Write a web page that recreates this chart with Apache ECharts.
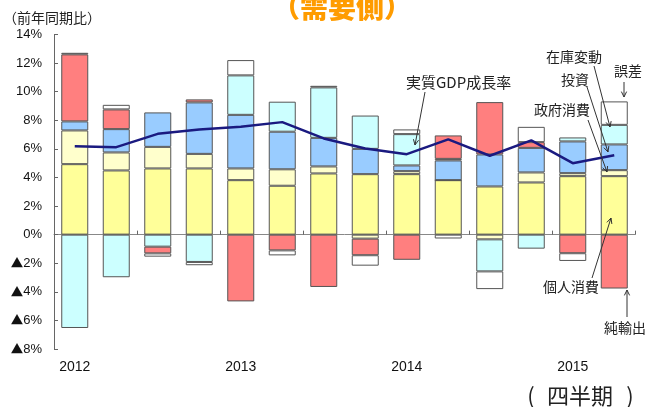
<!DOCTYPE html>
<html>
<head>
<meta charset="utf-8">
<script src="https://cdn.jsdelivr.net/npm/echarts@6/dist/echarts.min.js"></script>
<style>
  html, body { margin: 0; background: #fff; }
  #chart { width: 645px; height: 407px; }
</style>
</head>
<body>
<div id="chart"></div>
<script>
// 四半期（2012Q1〜2015Q2）
const quarters = ['2012Q1', '2012Q2', '2012Q3', '2012Q4', '2013Q1', '2013Q2', '2013Q3', '2013Q4',
  '2014Q1', '2014Q2', '2014Q3', '2014Q4', '2015Q1', '2015Q2'];
const yearLabels = ['2012', '', '', '', '2013', '', '', '', '2014', '', '', '', '2015', ''];

// 寄与度（%ポイント）
const kojinShohi = [4.93, 4.49, 4.63, 4.63, 3.81, 3.42, 4.28, 4.23, 4.23, 3.81, 3.37, 3.65, 4.09, 4.09];
const seifuShohi = [2.36, 1.26, 1.51, 1.02, 0.82, 1.15, 0.49, -0.28, 0.21, 0, -0.33, 0.70, 0.21, 0.42];
const toshi = [0.63, 1.63, 2.41, 3.60, 3.75, 2.63, 2.00, 1.77, 0.40, 1.38, 2.24, 1.72, 2.22, 1.80];
const zaiko = [-6.53, -2.98, -0.84, -1.91, 2.76, 2.10, 3.53, 2.33, 2.19, 0.11, -2.24, -0.98, 0.28, 1.37];
const junYushutsu = [4.69, 1.38, -0.47, 0.21, -4.67, -1.10, -3.66, -1.16, -1.76, 1.64, 3.66, 0.40, -1.30, -3.77];
const gosa = [0.11, 0.32, -0.23, -0.23, 1.07, -0.35, 0.11, -0.73, 0.33, -0.27, -1.24, 1.07, -0.54, 1.64];

// 実質GDP成長率
const gdpRate = [6.19, 6.12, 7.05, 7.35, 7.54, 7.87, 6.73, 6.03, 5.63, 6.66, 5.52, 6.59, 5.00, 5.56];

const jpFont = '"Noto Sans CJK JP", sans-serif';
const numFont = '"Liberation Sans", "Noto Sans CJK JP", sans-serif';

const chart = echarts.init(document.getElementById('chart'));

// 注釈用の矢印
const arrow = (x1, y1, x2, y2) => {
  const a = Math.atan2(y2 - y1, x2 - x1), h = 6, w = 0.45;
  return [
    { type: 'line', z: 100, shape: { x1, y1, x2, y2 }, style: { stroke: '#333', lineWidth: 1 } },
    {
      type: 'polyline', z: 100,
      shape: { points: [[x2 - h * Math.cos(a - w), y2 - h * Math.sin(a - w)], [x2, y2],
        [x2 - h * Math.cos(a + w), y2 - h * Math.sin(a + w)]] },
      style: { stroke: '#333', fill: null, lineWidth: 1 }
    }
  ];
};

const label = (text, x, y, size, align) => ({
  type: 'text', z: 100, x, y,
  style: { text, fontSize: size, fontFamily: jpFont, fill: '#222', textAlign: align || 'left', textVerticalAlign: 'middle' }
});

const makeBar = (name, data, color) => ({
  name, type: 'bar', stack: 'total', data, barWidth: 27,
  itemStyle: { color, borderColor: '#555', borderWidth: 1 },
  emphasis: { disabled: true }
});

const option = {
  animation: false,
  grid: { left: 54, right: 10, top: 34.5, bottom: 58, containLabel: false },
  xAxis: [
    {
      type: 'category', data: quarters,
      axisLine: { onZero: true, lineStyle: { color: '#888', width: 1 } },
      axisTick: { show: true, inside: true, length: 4, lineStyle: { color: '#666' } },
      axisLabel: { show: false }
    },
    {
      type: 'category', data: yearLabels, position: 'bottom',
      axisLine: { show: false, onZero: false }, axisTick: { show: false },
      axisLabel: { interval: 0, margin: 11, fontSize: 14, color: '#111', fontFamily: numFont }
    }
  ],
  yAxis: {
    type: 'value', min: -8, max: 14, interval: 2,
    axisLine: { show: true, lineStyle: { color: '#666' } },
    axisTick: { show: true, inside: true, length: 4, lineStyle: { color: '#666' } },
    splitLine: { show: false },
    axisLabel: {
      margin: 12, fontSize: 13, color: '#111', fontFamily: numFont,
      formatter: v => (v < 0 ? '{t|▲}' + (-v) : v) + '%',
      rich: { t: { fontFamily: jpFont, fontSize: 12.5, color: '#111' } }
    }
  },
  series: [
    makeBar('個人消費', kojinShohi, '#FFFF99'),
    makeBar('政府消費', seifuShohi, '#FFFFCC'),
    makeBar('投資', toshi, '#99CCFF'),
    makeBar('在庫変動', zaiko, '#CCFFFF'),
    makeBar('純輸出', junYushutsu, '#FF7F7F'),
    makeBar('誤差', gosa, '#FFFFFF'),
    {
      name: '実質GDP成長率', type: 'line', data: gdpRate, z: 10,
      showSymbol: false, symbol: 'none',
      lineStyle: { color: '#1A1A80', width: 2.5 }
    }
  ],
  graphic: [
    {
      type: 'text', z: 100, x: 342, y: 7,
      style: { text: '（需要側）', fontSize: 28, fontWeight: 900, fontFamily: jpFont, fill: '#FF9C00',
        textAlign: 'center', textVerticalAlign: 'middle' }
    },
    label('（前年同期比）', 3, 18, 14),
    label('(', 531, 396, 22, 'center'),
    label('四半期', 580, 396, 22, 'center'),
    label(')', 630, 396, 22, 'center'),
    label('実質GDP成長率', 406, 82, 15),
    ...arrow(425, 92, 415, 145),
    label('在庫変動', 546, 57, 14),
    ...arrow(594, 66, 610, 127),
    label('誤差', 614, 71, 14),
    ...arrow(624, 82, 624, 97),
    label('投資', 561, 80, 14),
    ...arrow(587, 87, 608, 152),
    label('政府消費', 534, 110, 14),
    ...arrow(588, 120, 607, 172),
    label('個人消費', 543, 287, 14),
    ...arrow(592, 278, 611, 218),
    label('純輸出', 604, 328, 14),
    ...arrow(627, 317, 627, 290)
  ]
};

chart.setOption(option);
</script>
</body>
</html>
